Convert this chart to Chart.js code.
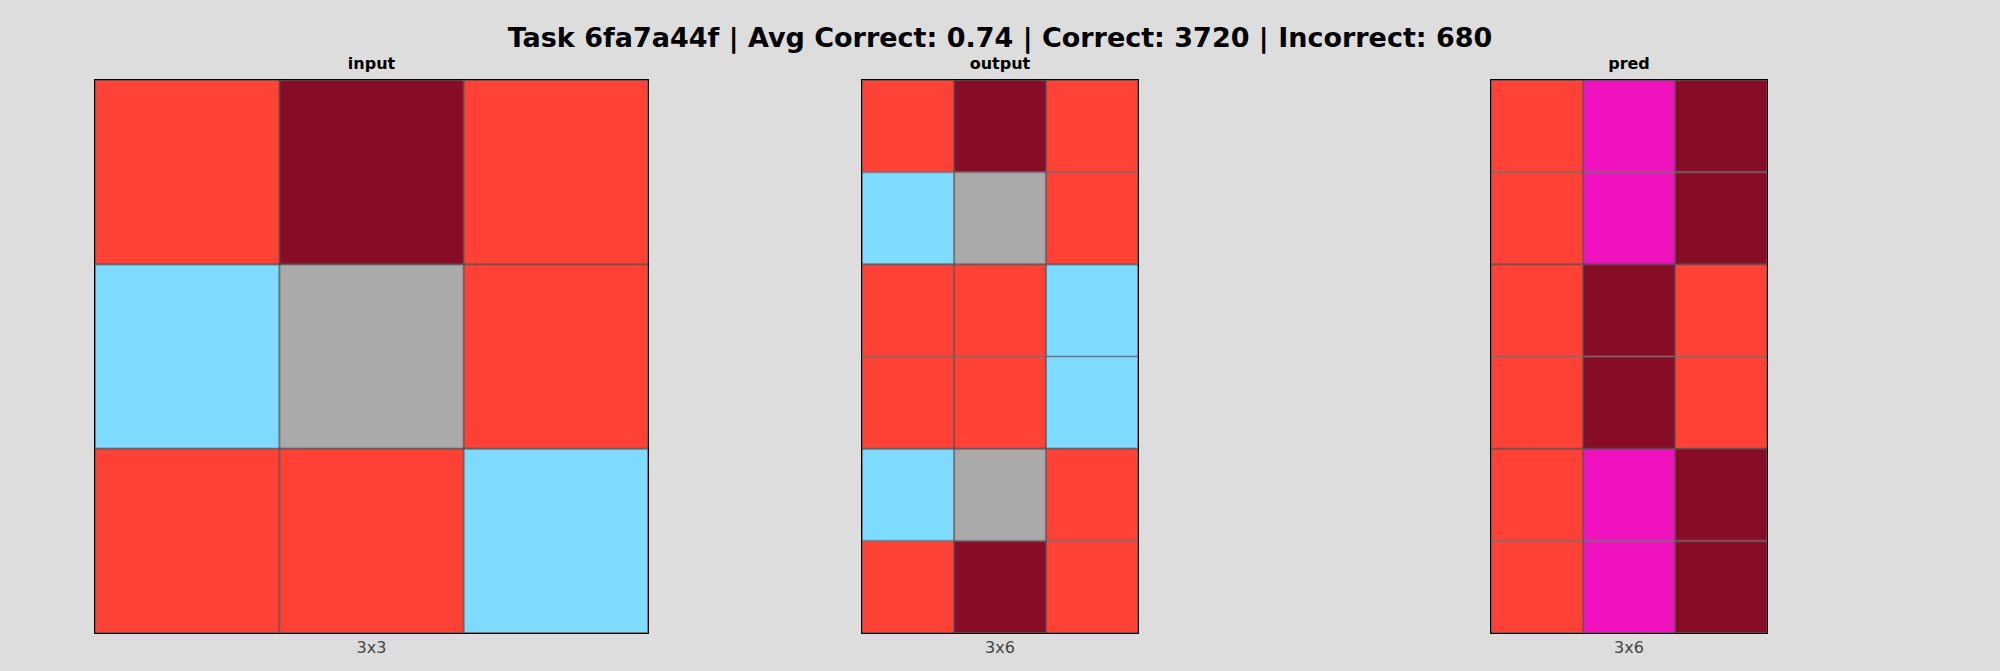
<!DOCTYPE html>
<html>
<head>
<meta charset="utf-8">
<script src="https://cdn.jsdelivr.net/npm/chart.js@4"></script>
<style>
  body { margin: 0; width: 2000px; height: 671px; background: #dddddd; font-family: "DejaVu Sans", sans-serif; position: relative; overflow: hidden; }
  .title { position: absolute; top: 22px; left: 0; width: 2000px; text-align: center; font-size: 27px; font-weight: bold; }
  .panel { position: absolute; top: 79px; }
  .panel canvas { display: block; border: 1px solid #000; }
  .sub { position: absolute; top: -25px; width: 100%; text-align: center; font-size: 16px; font-weight: bold; }
  .dim { position: absolute; top: 559px; width: 100%; text-align: center; font-size: 16px; color: #444; }
</style>
</head>
<body>
<div class="title">Task 6fa7a44f | Avg Correct: 0.74 | Correct: 3720 | Incorrect: 680</div>
<div class="panel" style="left:94px"><div class="sub">input</div><canvas id="input" width="555" height="555"></canvas><div class="dim">3x3</div></div>
<div class="panel" style="left:861px"><div class="sub">output</div><canvas id="output" width="278" height="555"></canvas><div class="dim">3x6</div></div>
<div class="panel" style="left:1490px"><div class="sub">pred</div><canvas id="pred" width="278" height="555"></canvas><div class="dim">3x6</div></div>
<script>
// ARC palette
const palette = {
  2: '#FF4136', 5: '#AAAAAA', 6: '#F012BE', 8: '#7FDBFF', 9: '#870C25'
};

// rows listed top to bottom
const inputGrid = [[2, 9, 2], [8, 5, 2], [2, 2, 8]];
const outputGrid = [[2, 9, 2], [8, 5, 2], [2, 2, 8], [2, 2, 8], [8, 5, 2], [2, 9, 2]];
const predGrid = [[2, 6, 9], [2, 6, 9], [2, 9, 2], [2, 9, 2], [2, 6, 9], [2, 6, 9]];

function drawGrid(id, grid) {
  const rows = grid.length;
  const cols = grid[0].length;
  // one stacked dataset per row, bottom row first
  const datasets = grid.slice().reverse().map(row => ({
    data: row.map(() => 1),
    backgroundColor: row.map(v => palette[v]),
    borderColor: '#555555',
    borderWidth: 1,
    borderSkipped: false,
    barPercentage: 1,
    categoryPercentage: 1
  }));
  new Chart(document.getElementById(id), {
    type: 'bar',
    data: { labels: grid[0].map((_, i) => i), datasets },
    options: {
      responsive: false,
      animation: false,
      layout: { padding: 0 },
      plugins: { legend: { display: false }, tooltip: { enabled: false } },
      scales: {
        x: { stacked: true, display: false },
        y: { stacked: true, display: false, min: 0, max: rows }
      }
    }
  });
}

drawGrid('input', inputGrid);
drawGrid('output', outputGrid);
drawGrid('pred', predGrid);
</script>
</body>
</html>
